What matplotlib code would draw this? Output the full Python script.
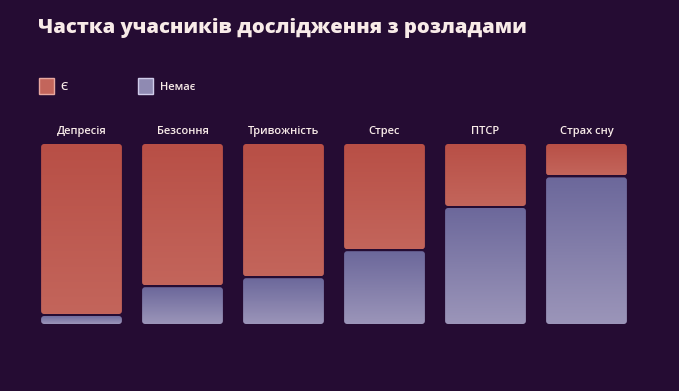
import numpy as np
import matplotlib
matplotlib.use('Agg')
import matplotlib.pyplot as plt
from matplotlib.patches import FancyBboxPatch, Patch
from matplotlib.colors import LinearSegmentedColormap

## data (share of participants, %)
categories = ['Депресія', 'Безсоння', 'Тривожність', 'Стрес', 'ПТСР', 'Страх сну']
yes_pct = [95, 79, 74, 59, 35, 18]
no_pct = [100 - v for v in yes_pct]

title = 'Частка учасників дослідження з розладами'
legend_labels = ['Є', 'Немає']

bg = '#250c33'
txt = '#f8ebe8'
red_top, red_bot = '#b84f46', '#c3655b'
pur_top, pur_bot = '#6c689b', '#9b95b9'

plt.rcParams['font.family'] = ['Open Sans', 'DejaVu Sans']

W, H = 679, 391
fig = plt.figure(figsize=(W / 100, H / 100), dpi=100, facecolor=bg)

# axes placed so that the bars land where the reference has them
ax = fig.add_axes([31 / W, (H - 324) / H, 606 / W, 180 / H])
ax.set_facecolor(bg)
ax.set_xlim(-0.5, len(categories) - 0.5)
ax.set_ylim(0, 100)
ax.axis('off')

bar_w = 0.8
gap = 1.1  # dark line between the two parts of a bar, in % units
# px per data unit, to keep the corner rounding round
px_x = 606 / len(categories)
px_y = 180 / 100
aspect = px_x / px_y
rad = 3 / px_x


def grad_seg(x0, y0, y1, c_top, c_bot):
    patch = FancyBboxPatch((x0, y0), bar_w, y1 - y0,
                           boxstyle='round,pad=0,rounding_size=%f' % rad,
                           mutation_aspect=aspect, linewidth=0,
                           facecolor='none')
    ax.add_patch(patch)
    cmap = LinearSegmentedColormap.from_list('g', [c_bot, c_top])
    grad = np.linspace(0, 1, 64).reshape(-1, 1)
    im = ax.imshow(grad, cmap=cmap, origin='lower', aspect='auto',
                   extent=(x0, x0 + bar_w, y0, y1), interpolation='bilinear')
    im.set_clip_path(patch)


for i, cat in enumerate(categories):
    x0 = i - bar_w / 2
    split = no_pct[i]
    grad_seg(x0, split + gap / 2, 100, red_top, red_bot)
    grad_seg(x0, 0, split - gap / 2, pur_top, pur_bot)
    ax.text(i, 107, cat, ha='center', va='center', color=txt,
            fontsize=8, fontweight='semibold')

ax.set_xlim(-0.5, len(categories) - 0.5)
ax.set_ylim(0, 100)

fig.text(38 / W, 1 - 28 / H, title, color=txt, fontsize=14.5,
         fontweight='heavy', va='center', ha='left')

handles = [Patch(facecolor=red_bot, edgecolor='#e8a8a0', linewidth=1),
           Patch(facecolor='#8f8ab2', edgecolor='#d0ccea', linewidth=1)]
leg = fig.legend(handles, legend_labels, loc='center left',
                 bbox_to_anchor=(29 / W, 1 - 86 / H), ncol=2, frameon=False,
                 handlelength=1.35, handleheight=1.75,
                 handletextpad=0.6, columnspacing=6.3, labelcolor=txt,
                 prop={'weight': 'semibold', 'size': 8})

fig.savefig('out.png', dpi=100, facecolor=bg)
